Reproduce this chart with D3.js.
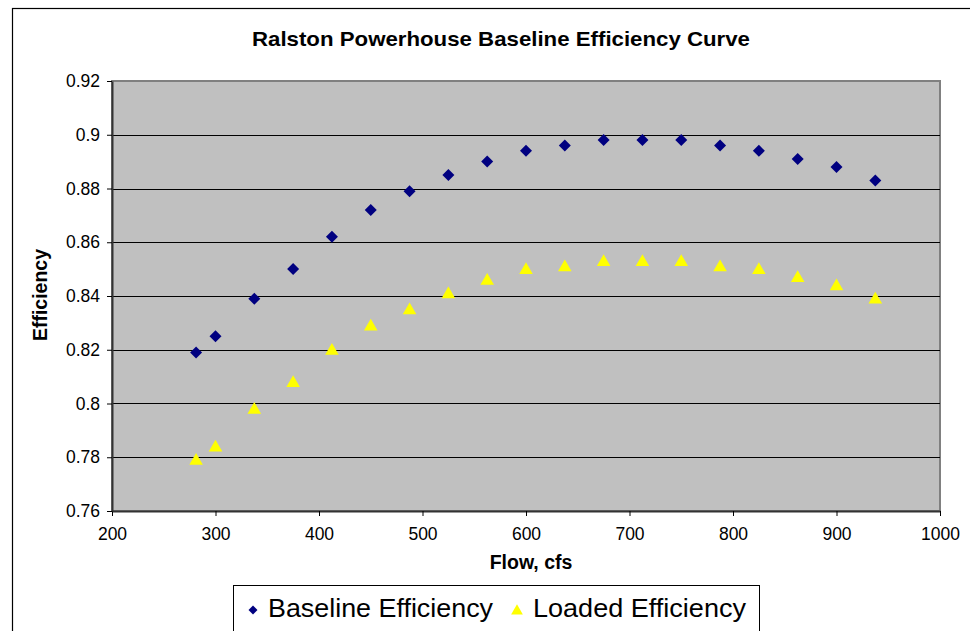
<!DOCTYPE html>
<html>
<head>
<meta charset="utf-8">
<script src="https://cdn.jsdelivr.net/npm/d3@7"></script>
<style>
  body { margin: 0; background: #fff; }
  svg text { font-family: Arial, "Liberation Sans", sans-serif; }
</style>
</head>
<body>
<svg width="970" height="631"></svg>
<script>
// data
const flows = [281.25, 300, 337.5, 375, 412.5, 450, 487.5, 525, 562.5, 600,
    637.5, 675, 712.5, 750, 787.5, 825, 862.5, 900, 937.5];
const baseline = [0.819, 0.825, 0.839, 0.850, 0.862, 0.872, 0.879, 0.885, 0.890, 0.894,
    0.896, 0.898, 0.898, 0.898, 0.896, 0.894, 0.891, 0.888, 0.883];
const loaded = [0.779, 0.784, 0.798, 0.808, 0.820, 0.829, 0.835, 0.841, 0.846, 0.850,
    0.851, 0.853, 0.853, 0.853, 0.851, 0.850, 0.847, 0.844, 0.839];
const xTicks = [200, 300, 400, 500, 600, 700, 800, 900, 1000];
const yTicks = [0.76, 0.78, 0.8, 0.82, 0.84, 0.86, 0.88, 0.9, 0.92];
const seriesNames = ["Baseline Efficiency", "Loaded Efficiency"];

let svg = d3.select("svg"),
    margin = {top: 81, bottom: 120, left: 112, right: 30},
    width = svg.attr("width") - margin.left - margin.right,
    height = svg.attr("height") - margin.top - margin.bottom;

// chart border
svg.append("rect")
    .attr("x", 12.5)
    .attr("y", 8.5)
    .attr("width", 980)
    .attr("height", 640)
    .attr("fill", "#fff")
    .attr("stroke", "#000")
    .attr("stroke-width", 1.2);

svg.append("text")
    .attr("x", 252)
    .attr("y", 46)
    .attr("font-size", "21px")
    .attr("font-weight", "bold")
    .attr("textLength", 498)
    .attr("lengthAdjust", "spacingAndGlyphs")
    .text("Ralston Powerhouse Baseline Efficiency Curve");

let g = svg.append("g")
    .attr("transform", "translate(" + margin.left + "," + margin.top + ")");

let xScale = d3.scaleLinear()
    .domain([200, 1000])
    .range([0, width]);
let yScale = d3.scaleLinear()
    .domain([0.76, 0.92])
    .range([height, 0]);

// plot area
g.append("rect")
    .attr("width", width)
    .attr("height", height)
    .attr("fill", "#c0c0c0")
    .attr("stroke", "#808080")
    .attr("stroke-width", 2);

// gridlines
g.selectAll("line.grid")
    .data(yTicks.slice(1, -1))
    .join("line")
    .attr("class", "grid")
    .attr("x1", 0)
    .attr("x2", width)
    .attr("y1", d => Math.round(yScale(d)) + 0.5)
    .attr("y2", d => Math.round(yScale(d)) + 0.5)
    .attr("stroke", "#000");

let xAxis = g.append("g")
    .attr("transform", "translate(0," + height + ")")
    .call(d3.axisBottom(xScale).tickValues(xTicks).tickFormat(d3.format("d")).tickSize(5).tickPadding(12).tickSizeOuter(0));
let yAxis = g.append("g")
    .call(d3.axisLeft(yScale).tickValues(yTicks).tickFormat(d3.format("")).tickSize(5).tickPadding(7).tickSizeOuter(0));

[xAxis, yAxis].forEach(a => {
    a.select(".domain").attr("stroke", "#333").attr("stroke-width", 2);
    a.selectAll(".tick line").attr("stroke", "#000");
    a.selectAll("text")
        .attr("font-size", "17.5px")
        .attr("fill", "#000")
        .attr("font-family", "Arial, 'Liberation Sans', sans-serif");
});

// axis titles
svg.append("text")
    .attr("x", 531)
    .attr("y", 569)
    .attr("text-anchor", "middle")
    .attr("font-size", "19.5px")
    .attr("font-weight", "bold")
    .text("Flow, cfs");
svg.append("text")
    .attr("transform", "translate(47,295) rotate(-90)")
    .attr("text-anchor", "middle")
    .attr("font-size", "19.5px")
    .attr("font-weight", "bold")
    .text("Efficiency");

const diamond = d3.symbol().type(d3.symbolSquare).size(72);
const triangle = d3.symbol().type(d3.symbolTriangle).size(80);

g.selectAll("path.base")
    .data(flows.map((f, i) => [f, baseline[i]]))
    .join("path")
    .attr("class", "base")
    .attr("d", diamond)
    .attr("transform", d => "translate(" + xScale(d[0]) + "," + yScale(d[1]) + ") rotate(45)")
    .attr("fill", "#000080");

g.selectAll("path.load")
    .data(flows.map((f, i) => [f, loaded[i]]))
    .join("path")
    .attr("class", "load")
    .attr("d", triangle)
    .attr("transform", d => "translate(" + xScale(d[0]) + "," + (yScale(d[1]) + 1) + ")")
    .attr("fill", "#ffff00");

// legend
let legend = svg.append("g");
legend.append("rect")
    .attr("x", 233.5)
    .attr("y", 585.5)
    .attr("width", 526)
    .attr("height", 60)
    .attr("fill", "#fff")
    .attr("stroke", "#000");
legend.append("path")
    .attr("d", d3.symbol().type(d3.symbolSquare).size(40))
    .attr("transform", "translate(253,610) rotate(45)")
    .attr("fill", "#000080");
legend.append("text")
    .attr("x", 268)
    .attr("y", 617)
    .attr("font-size", "26px")
    .attr("textLength", 225)
    .attr("lengthAdjust", "spacingAndGlyphs")
    .text(seriesNames[0]);
legend.append("path")
    .attr("d", d3.symbol().type(d3.symbolTriangle).size(60))
    .attr("transform", "translate(517,611)")
    .attr("fill", "#ffff00");
legend.append("text")
    .attr("x", 533)
    .attr("y", 617)
    .attr("font-size", "26px")
    .attr("textLength", 213)
    .attr("lengthAdjust", "spacingAndGlyphs")
    .text(seriesNames[1]);
</script>
</body>
</html>
